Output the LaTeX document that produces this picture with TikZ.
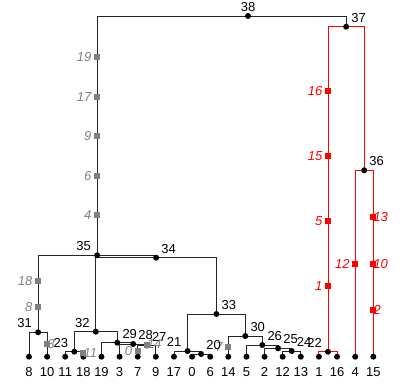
\documentclass[tikz,border=0pt]{standalone}
\usepackage{fontspec}
\setmainfont{Liberation Sans}
\usetikzlibrary{backgrounds}

\begin{document}
\begin{tikzpicture}[x=1pt,y=-1pt,every node/.style={font=\fontsize{13}{15}\selectfont}]
			\tikzset{dot/.style={shape = circle, fill = black, inner sep = 0pt, minimum size = 6pt}}
			\tikzset{mut/.style={shape = rectangle, fill = gray, inner sep = 0pt, minimum size = 6pt}}
			\tikzset{redmut/.style={mut, fill = red}}
			\tikzset{edge/.style={draw = black!85, line width = 0.9pt}}
			\tikzset{rededge/.style={draw = red, line width = 0.9pt}}
			\tikzset{rlab/.style={anchor = base west, xshift = 5pt, yshift = 4.4pt, inner sep = 0pt}}
			\tikzset{llab/.style={anchor = base east, xshift = -6pt, yshift = 4.4pt, inner sep = 0pt}}
			\tikzset{mlabl/.style={anchor = east, xshift = -5.5pt, inner sep = 0pt, text = gray, font = \fontsize{13}{15}\selectfont\itshape}}
			\tikzset{mlabr/.style={mlabl, anchor = west, xshift = 5.5pt}}
			\tikzset{redlabl/.style={mlabl, text = red}}
			\tikzset{redlabr/.style={mlabr, text = red}}
			\useasboundingbox (0, 0) rectangle (411, 385);
			%leaves
			\foreach \lab [count = \i from 0] in {8,10,11,18,19,3,7,9,17,0,6,14,5,2,12,13,1,16,4,15} {
				\node[dot] (n\lab) at ({29 + 18.12*\i}, 356.7) {};
				\node (l\lab) at ({29 + 18.12*\i}, 371.7) {\lab};
			}
			%internal nodes
			\node[dot] (n38) at (248, 16) {};
			\node[dot] (n37) at (346.1, 26.7) {};
			\node[dot] (n36) at (364.2, 170.3) {};
			\node[dot] (n35) at (97.1, 255.3) {};
			\node[dot] (n34) at (156.1, 257.7) {};
			\node[dot] (n33) at (216.4, 314) {};
			\node[dot] (n32) at (95.8, 331.7) {};
			\node[dot] (n31) at (38.1, 332.3) {};
			\node[dot] (n30) at (245.3, 336) {};
			\node[dot] (n29) at (117.3, 342.7) {};
			\node[dot] (n28) at (133.2, 344) {};
			\node[dot] (n27) at (146.8, 345.5) {};
			\node[dot] (n26) at (262.3, 345) {};
			\node[dot] (n25) at (278.1, 348.3) {};
			\node[dot] (n24) at (291.7, 351) {};
			\node[dot] (n23) at (74.3, 351.7) {};
			\node[dot] (n22) at (328, 351.7) {};
			\node[dot] (n21) at (187.6, 351) {};
			\node[dot] (n20) at (201.1, 354) {};
			%edges
			\begin{pgfonlayer}{background}
				\foreach \p/\c in {38/35, 38/37, 35/31, 35/34, 31/8, 31/10, 34/32, 34/33, 32/23, 32/29,
					23/11, 23/18, 29/19, 29/28, 28/3, 28/27, 27/7, 27/9, 33/21, 33/30, 21/17, 21/20,
					20/0, 20/6, 30/14, 30/26, 26/5, 26/25, 25/2, 25/24, 24/12, 24/13}
					\draw[edge] (n\p.center) -| (n\c.center);
				\foreach \p/\c in {37/22, 37/36, 22/1, 22/16, 36/4, 36/15}
					\draw[rededge] (n\p.center) -| (n\c.center);
			\end{pgfonlayer}
			%mutations
			\foreach \y/\m in {56.7/19, 96.7/17, 136/9, 175.7/6, 215/4} {
				\node[mut] (m\m) at (97.1, \y) {};
				\node[mlabl] (ml\m) at (m\m.center) {\m};
			}
			\foreach \y/\m in {281/18, 307.3/8} {
				\node[mut] (m\m) at (38.1, \y) {};
				\node[mlabl] (ml\m) at (m\m.center) {\m};
			}
			\node[mut] (m3) at (47.1, 344) {};
			\node[mlabr] (ml3) at (m3.center) {3};
			\node[mut] (m11) at (83.4, 353.3) {};
			\node[mlabr] (ml11) at (m11.center) {11};
			\node[mut] (m0) at (137.7, 350.7) {};
			\node[mlabl] (ml0) at (m0.center) {0};
			\node[mut] (m14) at (146.8, 344.5) {};
			\node[mlabr] (ml14) at (m14.center) {14};
			\node[mut] (m7) at (228.3, 346.7) {};
			\node[mlabl] (ml7) at (m7.center) {7};
			\foreach \y/\m in {90.7/16, 155.7/15, 221/5, 286/1} {
				\node[redmut] (m\m) at (328, \y) {};
				\node[redlabl] (ml\m) at (m\m.center) {\m};
			}
			\foreach \y/\m in {217/13, 263.7/10, 310/2} {
				\node[redmut] (m\m) at (373.3, \y) {};
				\node[redlabr] (ml\m) at (m\m.center) {\m};
			}
			\node[redmut] (m12) at (355.2, 263.7) {};
			\node[redlabl] (ml12) at (m12.center) {12};
			%node labels
			\node[anchor = base, yshift = 4.4pt, inner sep = 0pt] (t38) at (n38) {38};
			\foreach \n in {37, 36, 34, 33, 30, 29, 28, 27, 26, 25, 24, 20}
				\node[rlab] (t\n) at (n\n) {\n};
			\foreach \n in {35, 32, 31, 23, 22, 21}
				\node[llab] (t\n) at (n\n) {\n};
\end{tikzpicture}
\end{document}
